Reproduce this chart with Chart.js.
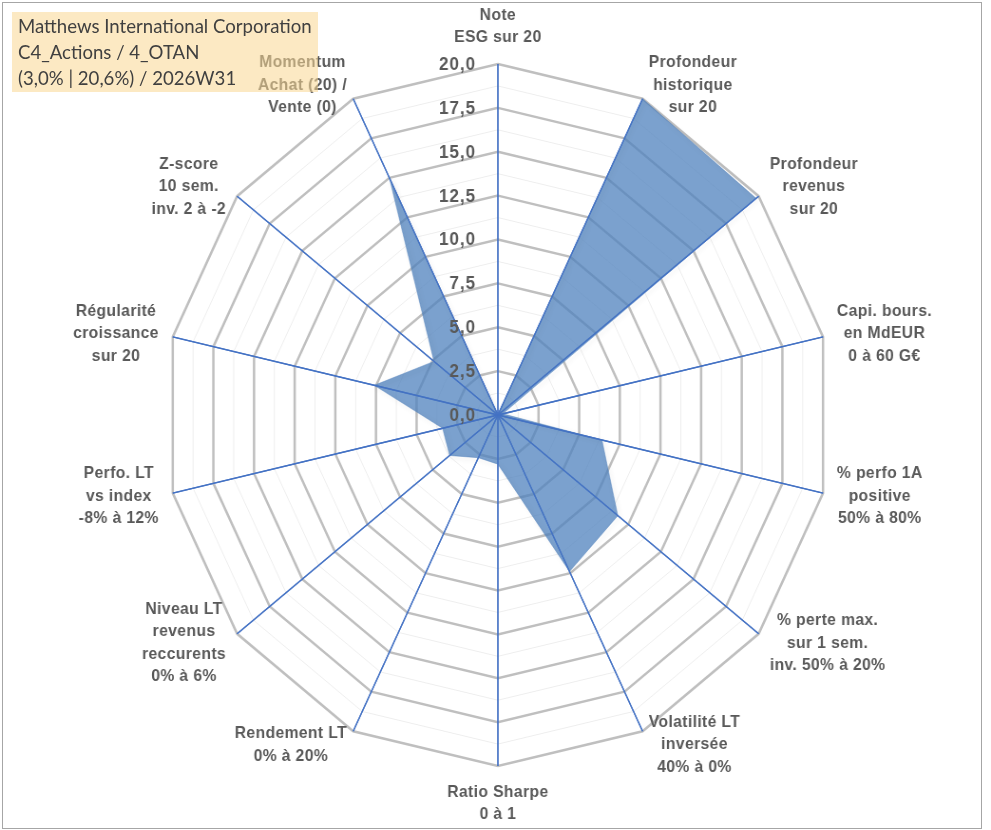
<!DOCTYPE html>
<html>
<head>
<meta charset="utf-8">
<script src="https://cdn.jsdelivr.net/npm/chart.js@4.4.1/dist/chart.umd.min.js"></script>
<style>
  body { margin: 0; background: #fff; }
  #zone { position: relative; width: 991px; height: 830px; overflow: hidden; }
  #c { position: absolute; left: 0; top: 0; }
  #titre {
    position: absolute; left: 12px; top: 12px; width: 306px; height: 80px;
    background: rgba(250, 215, 145, 0.55);
    font-family: Lato, "Open Sans", sans-serif; font-size: 18.6px; line-height: 26px;
    color: #404040; padding: 1px 0 0 6px; box-sizing: border-box; white-space: nowrap;
  }
  #cadre { position: absolute; left: 2px; top: 2px; width: 978px; height: 825px; border: 1px solid #a6a6a6; pointer-events: none; }
</style>
</head>
<body>
<div id="zone">
  <canvas id="c" width="1043" height="830" style="width:991px;height:830px"></canvas>
  <div id="titre">Matthews International Corporation<br>C4_Actions / 4_OTAN<br>(3,0% | 20,6%) / 2026W31</div>
  <div id="cadre"></div>
</div>
<script>
// axes du radar (sens horaire depuis le haut)
const categories = [
  ['Note', 'ESG sur 20'],
  ['Profondeur', 'historique', 'sur 20'],
  ['Profondeur', 'revenus', 'sur 20'],
  ['Capi. bours.', 'en MdEUR', '0 à 60 G€'],
  ['% perfo 1A', 'positive', '50% à 80%'],
  ['% perte max.', 'sur 1 sem.', 'inv. 50% à 20%'],
  ['Volatilité LT', 'inversée', '40% à 0%'],
  ['Ratio Sharpe', '0 à 1'],
  ['Rendement LT', '0% à 20%'],
  ['Niveau LT', 'revenus', 'reccurents', '0% à 6%'],
  ['Perfo. LT', 'vs index', '-8% à 12%'],
  ['Régularité', 'croissance', 'sur 20'],
  ['Z-score', '10 sem.', 'inv. 2 à -2'],
  ['Momentum', 'Achat (20) /', 'Vente (0)']
];
const notes = [0, 20, 19.8, 0.3, 6.4, 9.2, 9.9, 2.8, 2.7, 3.7, 3.4, 7.6, 4.9, 15];
const valeursGraduees = [0, 2.5, 5, 7.5, 10, 12.5, 15, 17.5, 20];
const etiquettesGraduees = ['0,0', '2,5', '5,0', '7,5', '10,0', '12,5', '15,0', '17,5', '20,0'];

const gris = '#595959';
const bleu = '#4472C4';

const habillage = {
  id: 'habillage',
  beforeDatasetDraw(chart) {
    const ctx = chart.ctx;
    ctx.save();
    ctx.shadowColor = 'rgba(0,0,0,0.35)';
    ctx.shadowBlur = 5;
    ctx.shadowOffsetX = 2;
    ctx.shadowOffsetY = 2;
  },
  afterDatasetDraw(chart) {
    chart.ctx.restore();
  },
  afterDatasetsDraw(chart) {
    const r = chart.scales.r;
    const ctx = chart.ctx;
    ctx.save();

    // rayons par-dessus le remplissage
    ctx.strokeStyle = bleu;
    ctx.lineWidth = 1.3;
    categories.forEach((c, i) => {
      const p = r.getPointPosition(i, r.drawingArea);
      ctx.beginPath();
      ctx.moveTo(r.xCenter, r.yCenter);
      ctx.lineTo(p.x, p.y);
      ctx.stroke();
    });

    // graduations
    ctx.fillStyle = gris;
    ctx.font = 'bold 18px "Liberation Sans", Arial, sans-serif';
    ctx.letterSpacing = '1px';
    ctx.textAlign = 'right';
    ctx.textBaseline = 'middle';
    valeursGraduees.forEach((v, i) => {
      const y = r.yCenter - r.getDistanceFromCenterForValue(v);
      ctx.fillText(etiquettesGraduees[i], r.xCenter - 23, y + 1);
    });

    // libellés des axes
    ctx.font = 'bold 16.5px "Liberation Sans", Arial, sans-serif';
    ctx.letterSpacing = '0.4px';
    ctx.textAlign = 'center';
    const lh = 22.5;
    const n = categories.length;
    categories.forEach((lignes, i) => {
      const p = r.getPointPosition(i, r.drawingArea + 15);
      const h = lignes.length * lh;
      const w = Math.max(...lignes.map(t => ctx.measureText(t).width));
      let cx = p.x, y0;
      if (i === 0) { y0 = p.y - h; }
      else if (i * 2 === n) { y0 = p.y; }
      else {
        y0 = p.y - h / 2;
        cx = i < n / 2 ? p.x + w / 2 : p.x - w / 2;
      }
      lignes.forEach((t, k) => ctx.fillText(t, cx, y0 + lh * (k + 0.5)));
    });
    ctx.restore();
  }
};

new Chart(document.getElementById('c'), {
  type: 'radar',
  data: {
    labels: categories,
    datasets: [{
      data: notes,
      backgroundColor: 'rgba(79, 129, 189, 0.75)',
      borderColor: 'rgba(79, 129, 189, 0.9)',
      borderWidth: 0.5,
      pointRadius: 0,
      fill: true
    }]
  },
  options: {
    responsive: false,
    animation: false,
    layout: { padding: { top: 64, bottom: 64, left: 100, right: 95 } },
    plugins: { legend: { display: false }, tooltip: { enabled: false } },
    scales: {
      r: {
        min: 0,
        max: 20,
        ticks: { display: false, stepSize: 1.25 },
        pointLabels: { display: false },
        grid: {
          circular: false,
          color: c => (c.tick && c.tick.value % 2.5 === 0) ? '#BFBFBF' : '#EEEEEE',
          lineWidth: c => (c.tick && c.tick.value % 2.5 === 0) ? 2.5 : 1
        },
        angleLines: { color: bleu, lineWidth: 1.3 }
      }
    }
  },
  plugins: [habillage]
});
</script>
</body>
</html>
